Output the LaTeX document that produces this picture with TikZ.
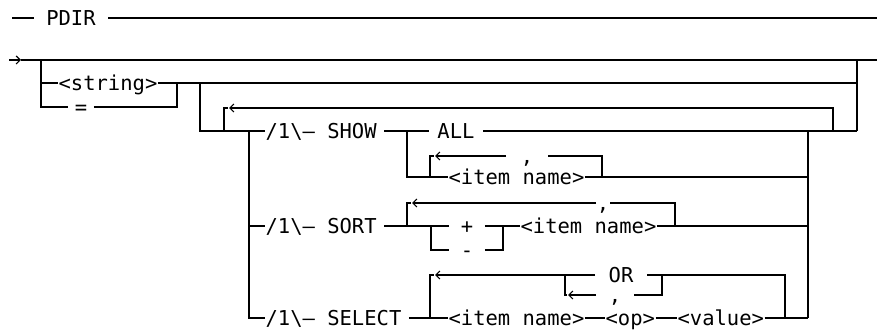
\documentclass[tikz,border=0pt]{standalone}
\usepackage{fontspec}
\newfontfamily\rrfont{DejaVu Sans Mono}
\usetikzlibrary{arrows.meta}

\begin{document}
\begin{tikzpicture}[x=1pt, y=-1pt, line width=1.2pt,
    lbl/.style={font=\rrfont\fontsize{20.5}{24}\selectfont, inner sep=0pt, text height=14.5pt, text depth=0pt},
    spaced/.style={lbl, inner xsep=#1},
    cmd/.style={lbl, anchor=west},
    fwd/.style={-{Straight Barb[length=4pt,width=8pt]}},
    back/.style={-{Straight Barb[length=4pt,width=8pt]}}
]
\useasboundingbox (0,0) rectangle (877,331);

% title
\coordinate (t0) at (12,18);
\coordinate (t1) at (877,18);
\node[spaced=12pt] (title) at (71,18) {PDIR};
\draw (t0) -- (title.west);
\draw (title.east) -- (t1);

% main line
\coordinate (in) at (9,60);
\coordinate (m0) at (21,60);
\coordinate (b0) at (41,60);
\coordinate (r0) at (857,60);
\coordinate (r1) at (857,131);
\coordinate (m1) at (877,60);
\draw[fwd] (in) -- (m0);
\draw (m0) -- (m1);
\draw (r0) -- (r1);

% <string> or =
\node[lbl] (string) at (108,83) {<string>};
\node[spaced=6pt] (eq) at (81,107) {=};
\coordinate (s1) at (177,83);
\draw (b0) |- (string.west);
\draw (b0) |- (eq.west);
\draw (eq.east) -| (s1);
\draw (string.east) -- (s1) -- (s1 -| r0);

% commands
\coordinate (c0) at (200,83);
\coordinate (c1) at (249,131);
\node[cmd] (show) at (265,131) {/1\textbackslash– SHOW};
\node[cmd] (sort) at (265,226) {/1\textbackslash– SORT};
\node[cmd] (select) at (265,318) {/1\textbackslash– SELECT};
\draw (c0) |- (show.west);
\draw (c1) |- (sort.west);
\draw (c1) |- (select.west);

% repeat
\coordinate (L0) at (224,131);
\coordinate (L0t) at (224,108);
\coordinate (L1) at (833,131);
\coordinate (L1t) at (833,108);
\draw (L0) -- (L0t) -- ++(4,0);
\draw[back] (L1) -- (L1t) -- ([xshift=5pt]L0t);

% collector
\coordinate (k0) at (808,131);
\coordinate (k1) at (808,318);
\draw (k0) -- (k1);

% SHOW
\coordinate (sw0) at (407,131);
\node[spaced=8pt] (all) at (456,131) {ALL};
\node[cmd] (item1) at (448,177) {<item name>};
\node[spaced=14pt] (comma1) at (527,156) {,};
\coordinate (q0) at (430,177);
\coordinate (q0t) at (430,156);
\coordinate (q1) at (602,177);
\coordinate (q1t) at (602,156);
\draw ([xshift=7pt]show.east) -- (all.west);
\draw (all.east) -- (r1);
\draw (sw0) |- (item1.west);
\draw (item1.east) -- (item1.east -| k0);
\draw (q0) -- (q0t) -- ++(4,0);
\draw (q1) -- (q1t) -- (comma1.east);
\draw[back] (comma1.west) -- ([xshift=5pt]q0t);

% SORT
\coordinate (so0) at (407,226);
\coordinate (so0t) at (407,203);
\coordinate (so1) at (675,226);
\coordinate (so1t) at (675,203);
\coordinate (pm0) at (431,226);
\coordinate (pm1) at (503,226);
\node[lbl] (comma2) at (603,203) {,};
\node[spaced=11pt] (plus) at (467,226) {+};
\node[spaced=11pt] (minus) at (467,250) {-};
\node[cmd] (item2) at (520,226) {<item name>};
\draw ([xshift=7pt]sort.east) -- (plus.west);
\draw (pm0) |- (minus.west);
\draw (minus.east) -| (pm1);
\draw (plus.east) -- (item2.west);
\draw (item2.east) -- (item2.east -| k0);
\draw (so0) -- (so0t) -- ++(4,0);
\draw (so1) -- (so1t) -- (comma2.east);
\draw[back] (comma2.west) -- ([xshift=5pt]so0t);

% SELECT
\coordinate (se0) at (430,318);
\coordinate (se0t) at (430,275);
\coordinate (se1) at (785,318);
\coordinate (se1t) at (785,275);
\coordinate (ch0) at (565,275);
\coordinate (ch0b) at (565,295);
\coordinate (ch1) at (662,275);
\node[cmd] (item3) at (448,318) {<item name>};
\node[cmd] (op) at (605,318) {<op>};
\node[cmd] (value) at (677,318) {<value>};
\node[spaced=13pt] (orw) at (621,275) {OR};
\node[spaced=12pt] (comma3) at (615,295) {,};
\draw ([xshift=7pt]select.east) -- (item3.west);
\draw (item3.east) -- (op.west);
\draw (op.east) -- (value.west);
\draw (value.east) -- (se1) -- (k1);
\draw (se0) -- (se0t) -- ++(4,0);
\draw (se1) -- (se1t) -- (orw.east);
\draw[back] (orw.west) -- ([xshift=5pt]se0t);
\draw (ch0) -- (ch0b) -- ++(2,0);
\draw (ch1) |- (comma3.east);
\draw[back] (comma3.west) -- ([xshift=3pt]ch0b);
\end{tikzpicture}
\end{document}
